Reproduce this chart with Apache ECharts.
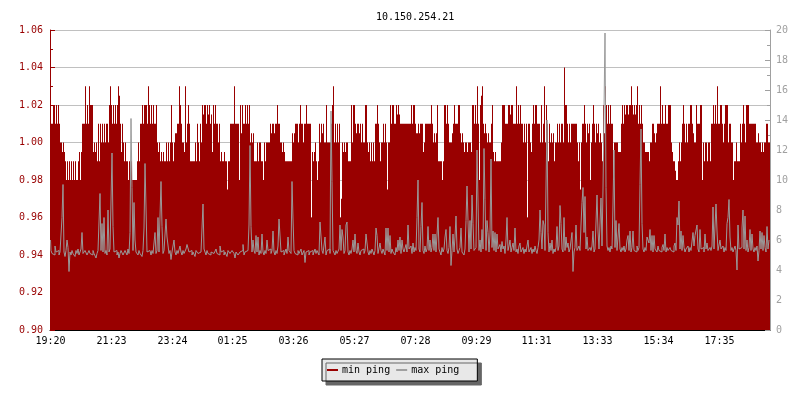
<!DOCTYPE html>
<html><head><meta charset="utf-8">
<script src="https://cdn.jsdelivr.net/npm/echarts@6/dist/echarts.min.js"></script>
<style>html,body{margin:0;padding:0;background:#fff}#c{width:800px;height:400px}</style>
</head><body><div id="c"></div>
<script>
const titleText = '10.150.254.21';
const seriesNames = ['min ping', 'max ping'];
const xTickIndex = [0, 61, 122, 182, 243, 304, 365, 426, 486, 547, 608, 669];
const xTickLabels = ['19:20', '21:23', '23:24', '01:25', '03:26', '05:27', '07:28', '09:29', '11:31', '13:33', '15:34', '17:35'];
const leftTicks = { min: 0.90, max: 1.06, interval: 0.02 };
const rightTicks = { min: 0, max: 20, interval: 2 };

const minPing = [
1.005,1.01,1.01,1.02,1.02,1.01,1.02,1.01,1.02,1.01,
1.00,1.00,0.995,1.00,0.995,0.99,0.98,0.99,0.98,0.99,
0.98,0.99,0.98,0.99,0.98,0.99,0.98,0.98,0.99,0.995,
0.98,0.995,1.01,1.01,1.01,1.03,1.01,1.02,1.01,1.03,
1.02,1.02,1.02,0.995,1.00,0.995,1.00,0.99,1.01,0.99,
1.01,1.00,1.01,1.00,1.01,1.00,1.01,1.01,1.00,1.02,
1.03,1.02,1.01,1.02,1.01,1.02,1.01,1.02,1.03,1.025,
1.01,0.995,1.01,1.00,0.99,1.00,0.99,0.99,0.98,0.99,
0.98,0.99,0.98,0.98,0.98,0.98,0.98,0.99,1.00,0.99,
1.01,1.01,1.02,1.01,1.02,1.02,1.02,1.01,1.03,1.02,
1.01,1.02,1.01,1.02,1.01,1.01,1.02,1.00,0.995,1.00,
0.99,0.995,0.99,0.995,0.99,0.99,1.00,0.99,1.00,0.99,
1.00,1.02,1.00,0.99,1.00,1.005,1.005,1.01,1.01,1.03,
1.02,1.01,1.00,1.00,0.995,1.03,1.00,1.01,1.02,1.01,
0.99,0.99,0.99,0.99,0.99,1.00,0.99,1.01,1.00,0.99,
1.01,1.00,1.02,1.015,1.02,1.02,1.01,1.02,1.015,1.02,
1.01,1.015,0.995,1.02,1.01,1.02,1.01,1.01,1.00,1.01,
0.99,0.995,0.99,0.99,0.995,0.99,0.99,0.975,0.99,0.99,
1.01,1.01,1.01,1.01,1.03,1.01,1.01,1.01,1.01,0.98,
1.02,1.005,1.02,1.01,1.01,1.02,1.01,1.02,1.01,1.02,
1.00,1.005,1.00,1.005,0.99,0.99,0.99,1.00,0.99,1.00,
1.00,0.99,0.99,0.98,1.00,0.99,1.00,1.00,1.00,1.00,
1.01,1.005,1.01,1.01,1.005,1.01,1.01,1.02,1.01,1.01,
1.00,1.00,0.995,1.00,0.995,0.99,0.99,0.99,0.99,0.99,
0.99,0.99,1.005,1.00,1.005,1.01,1.01,1.01,1.00,1.01,
1.02,1.01,1.01,1.00,1.01,1.01,1.02,1.01,1.01,1.01,
1.01,0.96,0.995,0.99,0.995,1.00,0.99,0.98,0.99,1.01,
1.00,1.01,1.005,1.01,1.00,1.00,1.02,1.00,1.00,1.00,
1.00,1.01,1.02,1.03,1.00,1.01,1.00,1.01,1.00,1.01,
0.96,0.97,1.00,0.995,1.00,0.995,1.00,1.00,0.99,0.99,
0.99,1.02,1.00,1.02,1.02,1.01,1.005,1.01,1.01,1.005,
1.01,1.00,1.01,1.00,1.00,1.02,1.02,1.00,0.995,1.00,
0.99,1.00,0.99,1.00,0.99,1.01,1.01,1.02,1.01,1.00,
0.99,1.00,1.00,1.01,1.00,1.01,1.00,0.975,1.00,1.00,
1.02,1.01,1.02,1.02,1.01,1.01,1.02,1.015,1.02,1.015,
1.01,1.01,1.01,1.01,1.01,1.01,1.01,1.01,1.01,1.01,
1.01,1.02,1.01,1.02,1.02,1.01,1.005,1.005,1.01,1.005,
1.01,1.01,1.01,0.995,1.00,1.01,1.01,1.01,1.01,1.01,
1.01,1.02,1.01,1.00,1.005,1.00,1.005,1.02,0.99,0.99,
0.99,0.99,0.98,0.99,1.02,1.02,1.01,1.02,1.01,1.00,
1.00,1.00,1.005,1.01,1.02,1.01,1.01,1.01,1.02,1.02,
1.005,1.00,1.005,1.00,0.995,1.00,1.00,0.995,1.00,1.00,
1.00,0.995,1.02,1.02,1.01,1.02,1.01,1.03,1.01,0.98,
1.02,1.025,1.03,1.01,1.005,1.01,1.005,1.00,1.005,1.00,
1.00,1.01,1.02,0.995,0.99,0.995,0.99,0.99,0.99,0.99,
0.99,1.00,1.02,1.02,1.02,1.01,1.01,1.01,1.02,1.02,
1.015,1.02,1.02,1.01,1.01,1.01,1.03,1.01,1.02,1.01,
1.02,1.01,1.01,1.00,1.01,1.00,1.01,0.96,1.01,1.01,
1.00,0.995,1.01,1.02,1.01,1.02,1.02,1.01,1.01,1.01,
1.00,1.02,1.00,1.01,1.03,1.00,1.02,1.01,0.99,1.01,
1.00,1.005,1.00,1.005,0.99,1.00,1.00,1.01,1.00,1.01,
1.00,1.01,1.01,1.00,1.04,1.02,1.02,1.01,1.00,1.01,
1.00,1.01,1.01,1.01,1.01,1.01,1.01,1.00,0.99,1.00,
0.975,1.00,1.01,1.01,1.02,1.01,1.00,1.01,1.005,1.01,
0.98,1.00,1.01,1.02,1.01,1.00,1.01,1.005,1.01,1.00,
1.005,1.00,0.99,1.02,1.005,1.03,1.02,1.01,1.02,1.01,
1.02,1.01,1.01,0.98,1.00,1.00,1.00,1.00,0.995,0.995,
0.995,1.01,1.02,1.01,1.02,1.015,1.02,1.02,1.015,1.02,
1.02,1.03,1.02,1.015,1.02,1.015,1.02,1.03,1.01,1.02,
1.01,1.02,1.01,1.00,1.00,0.995,0.995,0.995,0.995,0.99,
1.00,1.00,1.01,1.01,1.005,1.00,1.005,1.01,1.01,1.01,
1.03,1.01,1.02,1.01,1.01,1.02,1.01,1.01,1.02,1.02,
1.02,1.00,0.995,0.99,0.99,0.985,0.98,0.98,0.99,1.00,
0.99,1.00,1.01,1.02,1.01,1.00,1.01,1.00,1.01,1.01,
1.02,1.02,1.01,1.005,1.00,1.00,1.02,1.01,1.01,1.01,
1.02,1.02,0.98,1.00,0.99,1.00,1.00,0.99,1.00,1.00,
0.99,1.01,1.01,1.02,1.01,1.02,1.01,1.03,1.01,1.01,
1.02,1.02,1.01,1.00,1.01,1.02,1.02,1.02,1.00,1.01,
1.01,1.00,1.00,0.98,0.99,0.99,1.00,0.99,0.99,0.99,
1.01,1.00,1.01,1.02,1.01,1.00,1.02,1.02,1.02,1.01,
1.01,1.01,1.01,1.01,1.01,1.01,1.00,1.00,1.005,1.00,
1.00,0.995,1.00,0.995,1.00,1.00,1.01,1.01,1.00,1.00
];

const maxPing = [
6.0,5.3,5.1,5.2,5.0,5.6,5.2,5.1,5.3,5.0,
5.2,5.1,7.5,9.7,5.2,4.9,5.3,6.0,5.5,3.9,
5.2,5.0,5.3,5.1,5.2,4.9,5.3,5.1,5.4,5.0,
5.2,5.4,6.5,5.1,5.0,5.3,5.2,5.0,5.1,5.3,
5.1,5.2,5.0,5.3,5.1,5.2,4.8,5.1,5.3,5.2,
9.1,5.3,7.1,5.2,7.5,5.1,5.3,5.0,8.0,5.2,
5.4,8.6,11.8,6.9,5.2,5.1,5.3,5.0,5.2,4.8,
5.1,5.3,5.2,5.0,5.1,5.3,5.2,5.0,5.4,5.1,
6.5,14.1,9.5,5.3,8.5,6.0,5.2,5.1,5.0,5.3,
5.1,5.2,4.9,5.3,6.8,11.1,8.2,5.2,5.1,5.3,
5.2,5.0,5.3,5.1,5.2,6.5,5.1,5.3,7.5,5.2,
7.6,9.9,6.9,5.1,5.3,5.2,7.4,6.2,6.2,5.1,
5.3,4.7,5.2,5.1,6.0,5.2,5.0,5.3,5.1,5.2,
5.6,5.2,5.0,5.3,5.1,5.2,5.4,5.7,5.8,5.2,
5.1,5.3,5.0,5.2,5.1,4.9,5.3,5.2,5.1,5.0,
5.2,5.3,5.1,8.4,5.4,5.2,5.0,5.3,5.1,5.2,
5.0,5.2,5.3,5.1,5.0,5.2,5.4,5.1,5.2,5.0,
5.6,5.2,5.1,5.3,5.0,5.2,5.1,4.9,5.3,5.2,
5.1,5.0,5.3,5.2,5.1,4.8,5.2,5.3,5.0,5.1,
5.2,5.1,5.3,5.7,5.0,5.2,5.1,5.3,5.2,7.0,
12.3,6.9,5.2,6.0,5.3,5.1,6.3,5.2,6.2,5.0,
5.3,5.1,6.4,5.2,5.0,5.3,5.1,6.0,5.3,5.2,
5.4,5.1,5.3,6.6,5.2,5.0,5.3,5.1,5.6,7.4,
7.3,5.2,5.1,5.3,5.0,5.2,5.4,5.1,6.2,5.3,
5.2,5.1,9.9,7.4,5.3,5.1,5.2,5.0,5.3,5.1,
5.2,5.4,5.0,5.1,5.3,4.5,5.2,5.1,5.3,5.0,
5.2,5.1,5.3,5.0,5.2,5.4,5.1,5.3,5.2,5.0,
7.2,7.2,5.3,5.1,5.2,6.2,5.0,5.3,5.2,5.4,
5.1,14.6,9.9,5.3,5.2,5.0,5.3,5.1,5.2,5.4,
7.0,5.3,6.7,6.2,5.1,5.3,7.0,7.2,5.2,5.0,
5.3,5.1,5.4,6.0,5.2,6.4,5.3,5.1,5.8,5.2,
5.0,5.3,5.2,5.4,5.1,5.3,6.4,6.3,5.2,5.0,
5.3,5.1,5.4,5.2,5.0,5.3,6.8,6.3,5.1,5.2,
5.8,5.3,5.1,5.4,5.2,5.0,6.8,5.3,6.8,5.2,
6.3,5.1,5.4,5.2,5.3,5.0,5.5,5.2,6.0,5.3,
6.2,5.1,6.0,5.4,5.2,5.3,5.7,5.2,7.0,5.4,
5.3,5.6,5.1,5.8,5.2,5.5,5.3,7.5,10.0,5.4,
5.2,6.9,8.5,5.3,5.1,5.6,5.2,5.4,6.9,5.3,
6.0,5.2,5.5,6.4,5.3,6.4,5.2,5.1,7.5,5.4,
5.3,5.0,5.5,5.2,5.4,6.2,6.7,5.3,5.1,5.5,
6.9,4.3,5.3,6.4,5.2,6.2,7.6,5.4,5.1,5.3,
5.5,6.8,5.2,5.3,5.0,5.4,7.3,9.6,7.3,5.2,
7.3,5.4,9.0,7.1,5.3,5.2,5.5,12.0,8.6,5.3,
6.0,5.2,6.7,5.4,12.1,8.7,5.3,7.3,6.5,5.2,
6.4,11.4,5.5,6.6,5.3,6.5,5.2,6.4,5.4,5.3,
5.7,5.2,5.9,5.4,5.6,5.1,6.0,7.5,5.3,5.6,
6.0,5.2,5.5,5.8,5.3,6.8,5.2,5.4,5.1,5.6,
5.8,5.2,5.3,5.5,5.1,5.4,5.2,5.3,6.0,5.2,
5.3,5.5,5.1,5.4,5.2,5.6,5.3,5.1,5.5,6.0,
8.0,6.5,5.4,7.3,7.0,5.3,9.6,14.0,6.5,5.2,
5.8,5.3,6.0,5.1,5.4,5.2,5.5,6.9,5.3,5.6,
8.3,7.1,5.4,5.2,7.5,5.3,6.2,5.5,5.8,5.2,
5.4,5.3,6.5,3.9,5.2,5.5,7.0,5.3,5.2,5.6,
5.3,7.0,8.5,9.5,6.5,8.9,5.4,6.2,5.3,5.2,
5.5,5.3,5.6,6.6,5.2,5.4,5.3,9.0,6.6,5.4,
5.3,8.8,5.6,9.4,14.7,19.8,9.5,5.6,5.3,5.5,
5.2,5.6,5.4,8.4,12.0,5.5,7.3,5.3,5.2,7.1,
5.4,5.2,5.5,5.3,5.6,5.2,5.4,6.0,6.3,5.3,
6.6,5.2,5.5,6.6,5.3,5.4,5.2,5.6,5.3,5.5,
9.7,13.4,7.1,5.4,5.2,5.5,5.3,6.2,6.0,5.8,
6.7,5.3,6.3,5.2,6.3,5.4,5.5,5.2,5.6,5.3,
5.4,5.2,5.5,5.7,5.3,6.4,5.2,5.5,5.3,5.2,
5.5,5.3,5.4,5.2,5.6,5.8,5.3,7.5,7.0,8.6,
5.4,6.6,5.3,6.3,5.5,5.2,5.4,5.3,5.6,5.2,
5.5,5.3,5.4,6.5,5.6,6.3,6.2,7.0,5.4,5.2,
6.7,5.4,5.3,5.5,5.2,6.4,5.4,5.8,5.3,5.2,
5.5,5.3,5.6,8.2,5.4,5.5,8.4,6.6,5.3,5.2,
6.0,5.4,5.3,5.6,5.2,5.5,5.3,7.1,7.5,8.7,
6.2,5.3,5.5,5.2,5.4,5.6,5.3,4.0,7.0,5.4,
5.3,5.5,6.8,8.0,5.4,7.6,5.3,6.0,5.2,5.5,
6.7,5.3,6.4,5.4,5.2,5.5,5.3,5.6,4.6,5.3,
6.6,5.4,6.5,5.3,6.3,5.5,5.2,6.9,5.4,6.0
];

const categories = minPing.map((_, i) => String(i));
const tickSet = new Set(xTickIndex);
const mono = 'DejaVu Sans Mono';
const red = '#990000', grey = '#999999';

const chart = echarts.init(document.getElementById('c'), null, { renderer: 'canvas' });
chart.setOption({
  animation: false,
  backgroundColor: '#ffffff',
  title: {
    text: titleText, left: 371, top: 7,
    textStyle: { fontFamily: mono, fontSize: 10, fontWeight: 'normal', color: '#000' }
  },
  legend: {
    data: [
      { name: seriesNames[0], icon: 'rect', itemStyle: { color: red } },
      { name: seriesNames[1], icon: 'rect', itemStyle: { color: '#a0a0a0' } }
    ],
    left: 322, top: 359,
    itemWidth: 11, itemHeight: 2, itemGap: 6,
    padding: [6, 18, 6, 5],
    backgroundColor: '#e8e8e8', borderColor: '#000', borderWidth: 1,
    shadowColor: '#666', shadowOffsetX: 4, shadowOffsetY: 4, shadowBlur: 0,
    textStyle: { fontFamily: mono, fontSize: 10, color: '#000', padding: [0, 0, 0, -1] }
  },
  grid: { left: 50, right: 30, top: 30, bottom: 70, containLabel: false },
  xAxis: {
    type: 'category', data: categories, boundaryGap: true,
    axisLine: { lineStyle: { color: '#000', width: 1 } },
    axisTick: { inside: true, length: 5, alignWithLabel: true, interval: (i) => tickSet.has(i), lineStyle: { color: '#000' } },
    axisLabel: {
      interval: (i) => tickSet.has(i), margin: 6,
      formatter: (v) => xTickLabels[xTickIndex.indexOf(Number(v))] || '',
      fontFamily: mono, fontSize: 10, color: '#000'
    },
    splitLine: { show: false }
  },
  yAxis: [
    {
      type: 'value', min: leftTicks.min, max: leftTicks.max, interval: leftTicks.interval,
      position: 'left',
      axisLine: { show: true, lineStyle: { color: red } },
      axisTick: { show: true, inside: true, length: 5, lineStyle: { color: red } },
      minorTick: { show: true, splitNumber: 2, length: 3, lineStyle: { color: red } },
      axisLabel: { formatter: (v) => v.toFixed(2), fontFamily: mono, fontSize: 10, color: red, margin: 7 },
      splitLine: { show: true, lineStyle: { color: '#c0c0c0', width: 1 } }
    },
    {
      type: 'value', min: rightTicks.min, max: rightTicks.max, interval: rightTicks.interval,
      position: 'right',
      axisLine: { show: true, lineStyle: { color: '#a0a0a0' } },
      axisTick: { show: true, inside: true, length: 5, lineStyle: { color: '#a0a0a0' } },
      minorTick: { show: true, splitNumber: 2, length: 3, lineStyle: { color: '#a0a0a0' } },
      axisLabel: { fontFamily: mono, fontSize: 10, color: '#a0a0a0', margin: 6 },
      splitLine: { show: false }
    }
  ],
  series: [
    {
      name: seriesNames[0], type: 'bar', yAxisIndex: 0, data: minPing,
      barWidth: '100%', barCategoryGap: '0%', barGap: '0%',
      itemStyle: { color: red, borderWidth: 0 },
      large: false, z: 2
    },
    {
      name: seriesNames[1], type: 'line', yAxisIndex: 1, data: maxPing,
      step: 'middle', showSymbol: false, symbol: 'none',
      lineStyle: { color: grey, width: 1 }, itemStyle: { color: grey },
      z: 3
    }
  ]
});
</script></body></html>
